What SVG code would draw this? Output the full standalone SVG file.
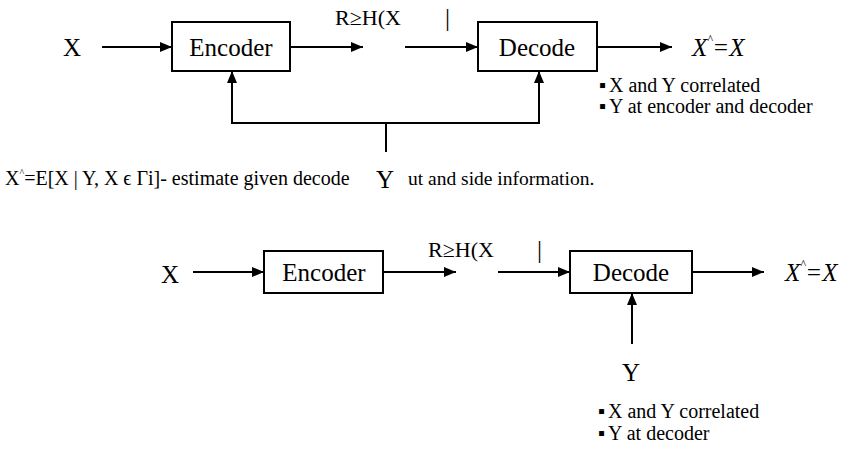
<svg xmlns="http://www.w3.org/2000/svg" width="844" height="449" viewBox="0 0 844 449">
<defs>
<marker id="ah" viewBox="0 0 12 10" refX="12" refY="5" markerWidth="12" markerHeight="10" markerUnits="userSpaceOnUse" orient="auto">
<path d="M0,0 L12,5 L0,10 Z" fill="#000"/>
</marker>
</defs>
<g id="connectors" fill="none" stroke="#000" stroke-width="2">
<line x1="102" y1="47" x2="172" y2="47" marker-end="url(#ah)"/>
<line x1="290" y1="47" x2="363" y2="47" marker-end="url(#ah)"/>
<line x1="405" y1="47" x2="478" y2="47" marker-end="url(#ah)"/>
<line x1="597" y1="47" x2="672" y2="47" marker-end="url(#ah)"/>
<path d="M386,152 V123 M231,123 H540"/>
<line x1="232" y1="123" x2="232" y2="71" marker-end="url(#ah)"/>
<line x1="539" y1="123" x2="539" y2="71" marker-end="url(#ah)"/>
<line x1="193" y1="272" x2="264" y2="272" marker-end="url(#ah)"/>
<line x1="383" y1="272" x2="456" y2="272" marker-end="url(#ah)"/>
<line x1="498" y1="272" x2="570" y2="272" marker-end="url(#ah)"/>
<line x1="692" y1="272" x2="764" y2="272" marker-end="url(#ah)"/>
<line x1="632" y1="344" x2="632" y2="293" marker-end="url(#ah)"/>
</g>
<g id="top-encoder">
<rect x="172" y="22" width="118" height="49" fill="#fff" stroke="#000" stroke-width="2"/>
<text x="231" y="56" text-anchor="middle" font-size="25" font-family="Liberation Serif">Encoder</text>
</g>
<g id="top-decoder">
<rect x="478" y="22" width="119" height="49" fill="#fff" stroke="#000" stroke-width="2"/>
<text x="537" y="56" text-anchor="middle" font-size="25" font-family="Liberation Serif">Decode</text>
</g>
<g id="top-labels">
<text x="63" y="56" font-size="25" font-family="Liberation Serif">X</text>
<text x="335" y="25" font-size="22" font-family="Liberation Serif">R≥H(X</text>
<text x="445" y="26" font-size="25" font-family="Liberation Serif">|</text>
<text x="692" y="56" font-size="25" font-style="italic" font-family="Liberation Serif">X<tspan font-size="12" dy="-13">^</tspan><tspan dy="13">=X</tspan></text>
<text x="599" y="92" font-size="20" font-family="Liberation Serif">▪<tspan x="609">X and Y correlated</tspan></text>
<text x="599" y="113" font-size="20" font-family="Liberation Serif">▪<tspan x="609">Y at encoder and decoder</tspan></text>
</g>
<g id="note">
<text x="5" y="185" font-size="20" font-family="Liberation Serif">X<tspan font-size="10" dy="-9">^</tspan><tspan dy="9">=E[X | Y, X ϵ Γi]- estimate given decode</tspan></text>
<text x="376" y="188" font-size="25" font-family="Liberation Serif">Y</text>
<text x="408" y="185" font-size="19.5" font-family="Liberation Serif">ut and side information.</text>
</g>
<g id="bottom-encoder">
<rect x="264" y="251" width="119" height="42" fill="#fff" stroke="#000" stroke-width="2"/>
<text x="324" y="281" text-anchor="middle" font-size="25" font-family="Liberation Serif">Encoder</text>
</g>
<g id="bottom-decoder">
<rect x="570" y="251" width="122" height="42" fill="#fff" stroke="#000" stroke-width="2"/>
<text x="631" y="281" text-anchor="middle" font-size="25" font-family="Liberation Serif">Decode</text>
</g>
<g id="bottom-labels">
<text x="161" y="283" font-size="25" font-family="Liberation Serif">X</text>
<text x="428" y="257" font-size="22" font-family="Liberation Serif">R≥H(X</text>
<text x="537" y="258" font-size="25" font-family="Liberation Serif">|</text>
<text x="785" y="281" font-size="25" font-style="italic" font-family="Liberation Serif">X<tspan font-size="12" dy="-13">^</tspan><tspan dy="13">=X</tspan></text>
<text x="622" y="381" font-size="25" font-family="Liberation Serif">Y</text>
<text x="598" y="418" font-size="20" font-family="Liberation Serif">▪<tspan x="608">X and Y correlated</tspan></text>
<text x="598" y="440" font-size="20" font-family="Liberation Serif">▪<tspan x="608">Y at decoder</tspan></text>
</g>
</svg>
